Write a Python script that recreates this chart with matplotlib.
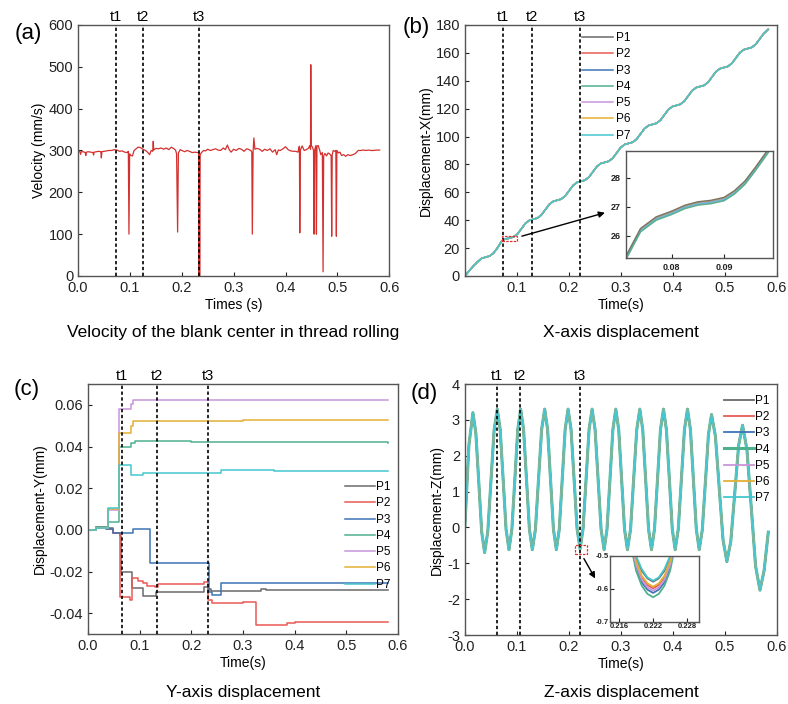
# 螺纹滚压坯料中心速度与位移 (a)-(d)
import matplotlib
matplotlib.use('Agg')
import matplotlib.pyplot as plt
from matplotlib.patches import Rectangle

plt.rcParams['font.family'] = ['Liberation Sans', 'DejaVu Sans']
plt.rcParams['axes.unicode_minus'] = False

# ---------------- data ----------------
POINTS = ['P1', 'P2', 'P3', 'P4', 'P5', 'P6', 'P7']
COLORS = ['#6a6a6a', '#e85a55', '#3f74b5', '#4fb08e', '#c896da', '#e3b035', '#45c6cf']

# (a) velocity of blank center
T_VEL = [0.000, 0.0008, 0.004, 0.005, 0.006, 0.010, 0.014, 0.015, 0.016, 0.020, 0.025, 0.029, 0.030, 0.031,
         0.035, 0.040, 0.044, 0.045, 0.046, 0.050, 0.055, 0.060, 0.065, 0.070, 0.075, 0.080, 0.085, 0.090,
         0.095, 0.097, 0.0982, 0.0995, 0.102, 0.105, 0.108, 0.112, 0.116, 0.120, 0.125, 0.130, 0.134, 0.138,
         0.141, 0.144, 0.145, 0.146, 0.150, 0.155, 0.160, 0.165, 0.170, 0.175, 0.180, 0.185, 0.188, 0.190,
         0.192, 0.1935, 0.197, 0.202, 0.206, 0.210, 0.215, 0.220, 0.225, 0.230, 0.2325, 0.2333, 0.2338,
         0.2345, 0.2355, 0.238, 0.242, 0.246, 0.250, 0.255, 0.260, 0.265, 0.270, 0.275, 0.280, 0.284, 0.288,
         0.291, 0.295, 0.300, 0.305, 0.310, 0.315, 0.320, 0.325, 0.330, 0.334, 0.335, 0.336, 0.3375, 0.339,
         0.341, 0.345, 0.350, 0.355, 0.360, 0.365, 0.370, 0.375, 0.380, 0.383, 0.386, 0.390, 0.395, 0.400,
         0.405, 0.410, 0.415, 0.420, 0.424, 0.426, 0.4268, 0.4275, 0.4285, 0.432, 0.436, 0.440, 0.444, 0.447,
         0.4482, 0.4487, 0.4495, 0.452, 0.454, 0.455, 0.456, 0.4585, 0.4596, 0.4606, 0.463, 0.466, 0.468,
         0.471, 0.4724, 0.4735, 0.476, 0.479, 0.482, 0.485, 0.488, 0.489, 0.490, 0.492, 0.495, 0.497, 0.498,
         0.499, 0.502, 0.505, 0.508, 0.512, 0.516, 0.520, 0.525, 0.530, 0.535, 0.540, 0.545, 0.550, 0.555,
         0.560, 0.565, 0.570, 0.575, 0.5815]
V_VEL = [0, 300, 296, 291, 297, 297, 295, 288, 296, 297, 296, 295, 289, 296,
         297, 298, 297, 282, 297, 298, 299, 300, 300, 302, 301, 298, 299, 296,
         295, 298, 100, 292, 288, 287, 300, 304, 308, 307, 303, 300, 296, 290,
         300, 298, 322, 301, 305, 304, 306, 303, 306, 302, 308, 304, 301, 292,
         105, 294, 302, 299, 297, 300, 298, 295, 296, 295, 296, 0, 294,
         0, 290, 295, 300, 299, 303, 300, 302, 304, 301, 300, 306, 302, 313,
         303, 296, 303, 300, 305, 303, 298, 304, 302, 299, 296, 100, 298, 330,
         303, 305, 303, 298, 303, 300, 304, 296, 302, 290, 301, 300, 304, 309,
         302, 299, 298, 298, 296, 308, 310, 103, 300, 311, 300, 302, 305, 312,
         303, 505, 312, 308, 300, 100, 300, 312, 100, 310, 312, 300, 290,
         295, 10, 287, 293, 287, 294, 292, 287, 95, 290, 300, 298, 300, 95,
         300, 294, 296, 288, 290, 286, 290, 288, 290, 293, 300, 300, 301, 300,
         301, 300, 300, 301, 301]

# (b) X displacement (all points overlap at this scale)
T_X = [0.000, 0.008, 0.016, 0.024, 0.032, 0.040, 0.0476, 0.0553, 0.0629, 0.0705, 0.0782, 0.0858,
       0.0934, 0.1011, 0.1087, 0.1163, 0.1240, 0.1316, 0.1392, 0.1469, 0.1545, 0.1621, 0.1698, 0.1774,
       0.1850, 0.1927, 0.2003, 0.2079, 0.2156, 0.2232, 0.2308, 0.2385, 0.2461, 0.2537, 0.2614, 0.2690,
       0.2766, 0.2843, 0.2919, 0.2995, 0.3072, 0.3148, 0.3224, 0.3301, 0.3377, 0.3453, 0.3530, 0.3606,
       0.3682, 0.3759, 0.3835, 0.3911, 0.3988, 0.4064, 0.4140, 0.4217, 0.4293, 0.4369, 0.4446, 0.4522,
       0.4598, 0.4675, 0.4751, 0.4827, 0.4904, 0.4980, 0.5056, 0.5133, 0.5209, 0.5285, 0.5362, 0.5438,
       0.5514, 0.5591, 0.5667, 0.5743, 0.5830]
X_DISP = [0.0, 3.6, 7.0, 10.0, 12.6, 13.5, 14.3, 16.5, 20.3, 24.9, 26.6, 27.1,
          28.0, 30.1, 33.9, 37.7, 39.9, 40.7, 41.5, 43.7, 47.5, 51.3, 53.5, 54.3,
          55.1, 57.3, 61.1, 64.9, 67.1, 67.9, 68.7, 70.9, 74.7, 78.5, 80.7, 81.5,
          82.3, 84.5, 88.3, 92.1, 94.3, 95.1, 95.9, 98.1, 101.9, 105.7, 107.9, 108.7,
          109.5, 111.7, 115.5, 119.3, 121.5, 122.3, 123.1, 125.3, 129.1, 132.9, 135.1, 135.9,
          136.7, 138.9, 142.7, 146.5, 148.7, 149.5, 150.3, 152.5, 156.3, 160.1, 162.3, 163.1,
          163.9, 166.1, 169.9, 173.7, 176.8]
# zoomed window of (b)
T_XIN = [0.0712, 0.0740, 0.0770, 0.0800, 0.0825, 0.0850, 0.0875, 0.0900, 0.0920, 0.0940, 0.0960, 0.0985]
X_XIN = [25.25, 26.20, 26.60, 26.80, 27.00, 27.12, 27.17, 27.27, 27.50, 27.83, 28.30, 28.93]
XIN_SHIFT = [0.06, -0.04, 0.03, -0.06, 0.00, 0.05, -0.02]
XIN_ORDER = [1, 2, 4, 5, 6, 3, 0]   # draw order in the zoom, grey on top

# (c) Y displacement, step-like
T_C = [
    [0.000, 0.016, 0.035, 0.048, 0.0625, 0.064, 0.0845, 0.106, 0.131, 0.225, 0.233, 0.238, 0.250, 0.335, 0.345, 0.580],
    [0.000, 0.016, 0.035, 0.048, 0.062, 0.0815, 0.0845, 0.096, 0.106, 0.115, 0.129, 0.136, 0.224, 0.2325, 0.240, 0.300, 0.326, 0.385, 0.400, 0.580],
    [0.000, 0.016, 0.035, 0.048, 0.087, 0.119, 0.2346, 0.240, 0.257, 0.580],
    [0.000, 0.016, 0.035, 0.039, 0.060, 0.084, 0.090, 0.200, 0.580],
    [0.000, 0.016, 0.035, 0.039, 0.060, 0.084, 0.088, 0.580],
    [0.000, 0.016, 0.035, 0.039, 0.060, 0.084, 0.087, 0.300, 0.580],
    [0.000, 0.016, 0.035, 0.039, 0.060, 0.084, 0.106, 0.258, 0.360, 0.580],
]
Y_C = [
    [0.000, 0.0015, 0.0008, -0.0015, -0.003, -0.0200, -0.0278, -0.0318, -0.0300, -0.0275, -0.0285, -0.0295, -0.0292, -0.0285, -0.0290, -0.0290],
    [0.000, 0.0012, 0.0005, -0.0015, -0.0320, -0.0335, -0.0230, -0.0245, -0.0256, -0.0268, -0.0275, -0.0258, -0.0248, -0.0335, -0.0350, -0.0345, -0.0455, -0.0447, -0.0440, -0.0440],
    [0.000, 0.0010, 0.0005, -0.0015, 0.0002, -0.0157, -0.0300, -0.0312, -0.0256, -0.0256],
    [0.000, 0.0015, 0.0010, 0.0040, 0.0398, 0.0415, 0.0425, 0.0420, 0.0418],
    [0.000, 0.0010, 0.0008, 0.0095, 0.0580, 0.0605, 0.0622, 0.0622],
    [0.000, 0.0010, 0.0008, 0.0098, 0.0465, 0.0500, 0.0525, 0.0526, 0.0528],
    [0.000, 0.0010, 0.0008, 0.0103, 0.0310, 0.0265, 0.0275, 0.0287, 0.0281, 0.0281],
]

# (d) Z displacement (all points overlap at this scale)
T_Z = [0.0000, 0.0077, 0.0154, 0.0210, 0.0267, 0.0323, 0.0379, 0.0440, 0.0501, 0.0561, 0.0622,
       0.0678, 0.0735, 0.0791, 0.0847, 0.0903, 0.0960, 0.1016, 0.1072, 0.1128, 0.1184, 0.1240, 0.1296,
       0.1356, 0.1415, 0.1475, 0.1534, 0.1590, 0.1646, 0.1702, 0.1758, 0.1814, 0.1871, 0.1927, 0.1983,
       0.2041, 0.2099, 0.2156, 0.2214, 0.2272, 0.2330, 0.2387, 0.2445, 0.2503, 0.2561, 0.2618, 0.2676,
       0.2732, 0.2789, 0.2845, 0.2901, 0.2957, 0.3013, 0.3069, 0.3125, 0.3185, 0.3244, 0.3304, 0.3363,
       0.3419, 0.3475, 0.3531, 0.3587, 0.3645, 0.3703, 0.3760, 0.3818, 0.3874, 0.3931, 0.3987, 0.4043,
       0.4102, 0.4162, 0.4221, 0.4280, 0.4336, 0.4393, 0.4449, 0.4505, 0.4564, 0.4624, 0.4683, 0.4742,
       0.4816, 0.4890, 0.4963, 0.5037, 0.5112, 0.5188, 0.5263, 0.5338, 0.5422, 0.5506, 0.5589, 0.5673,
       0.5753, 0.5833]
Z_DISP = [0.05, 2.30, 3.20, 2.63, 1.25, -0.13, -0.70, -0.11, 1.30, 2.71, 3.30,
          2.73, 1.34, -0.05, -0.62, -0.05, 1.34, 2.73, 3.30, 2.73, 1.34, -0.05, -0.62,
          -0.05, 1.34, 2.73, 3.30, 2.73, 1.34, -0.05, -0.62, -0.05, 1.34, 2.73, 3.30,
          2.73, 1.35, -0.03, -0.60, -0.03, 1.35, 2.73, 3.30, 2.73, 1.34, -0.05, -0.62,
          -0.05, 1.34, 2.73, 3.30, 2.73, 1.34, -0.05, -0.62, -0.05, 1.34, 2.73, 3.30,
          2.73, 1.34, -0.05, -0.62, -0.05, 1.34, 2.73, 3.30, 2.73, 1.34, -0.05, -0.62,
          -0.05, 1.34, 2.73, 3.30, 2.73, 1.34, -0.05, -0.62, -0.07, 1.27, 2.60, 3.15,
          2.55, 1.10, -0.35, -0.95, -0.39, 0.95, 2.29, 2.85, 2.18, 0.55, -1.08, -1.75,
          -1.20, -0.13]
# zoomed trough of (d) near t3
T_ZIN = [0.2180, 0.2190, 0.2200, 0.2210, 0.2220, 0.2230, 0.2240, 0.2250, 0.2260]
Z_ZIN = [
    [-0.430, -0.505, -0.545, -0.568, -0.578, -0.568, -0.545, -0.505, -0.430],
    [-0.445, -0.520, -0.565, -0.588, -0.598, -0.588, -0.565, -0.520, -0.445],
    [-0.455, -0.534, -0.580, -0.602, -0.612, -0.602, -0.580, -0.534, -0.455],
    [-0.460, -0.545, -0.590, -0.615, -0.625, -0.615, -0.590, -0.545, -0.460],
    [-0.450, -0.527, -0.572, -0.595, -0.605, -0.595, -0.572, -0.527, -0.450],
    [-0.440, -0.515, -0.560, -0.583, -0.593, -0.583, -0.560, -0.515, -0.440],
    [-0.420, -0.500, -0.540, -0.565, -0.575, -0.565, -0.540, -0.500, -0.420],
]

T_MARKS = {
    'a': [0.073, 0.125, 0.233],
    'b': [0.0734, 0.1295, 0.222],
    'c': [0.065, 0.133, 0.232],
    'd': [0.062, 0.106, 0.222],
}


def style(ax, size=10.5):
    for s in ax.spines.values():
        s.set_linewidth(1.0)
        s.set_color('#555555')
    ax.tick_params(direction='in', length=3, width=0.8, labelsize=size, colors='#222222')


def t_lines(ax, xs):
    for i, x in enumerate(xs):
        ax.axvline(x, color='black', lw=1.2, ls=(0, (2, 1.5)), zorder=5)
        ax.text(x, 1.005, 't%d' % (i + 1), transform=ax.get_xaxis_transform(),
                ha='center', va='bottom', fontsize=10.5)


fig = plt.figure(figsize=(7.88, 7.04), dpi=100)

# (a)
ax = fig.add_axes([0.099, 0.608, 0.395, 0.3565])
ax.plot(T_VEL, V_VEL, color='#d2312f', lw=0.9)
ax.set_xlim(0, 0.6)
ax.set_ylim(0, 600)
ax.set_xticks([0.0, 0.1, 0.2, 0.3, 0.4, 0.5, 0.6])
ax.set_xticklabels(['0.0', '0.1', '0.2', '0.3', '0.4', '0.5', '0.6'])
ax.set_yticks(range(0, 601, 100))
ax.set_xlabel('Times (s)', fontsize=10, labelpad=2)
ax.set_ylabel('Velocity (mm/s)', fontsize=10, labelpad=2)
style(ax)
t_lines(ax, T_MARKS['a'])

# (b)
ax = fig.add_axes([0.590, 0.608, 0.396, 0.3565])
for name, col in zip(POINTS, COLORS):
    ax.plot(T_X, X_DISP, color=col, lw=1.1, label=name)
ax.set_xlim(0, 0.6)
ax.set_ylim(0, 180)
ax.set_xticks([0.1, 0.2, 0.3, 0.4, 0.5, 0.6])
ax.set_yticks(range(0, 181, 20))
ax.set_xlabel('Time(s)', fontsize=10, labelpad=2)
ax.set_ylabel('Displacement-X(mm)', fontsize=10, labelpad=2)
style(ax)
t_lines(ax, T_MARKS['b'])
ax.legend(loc='upper left', bbox_to_anchor=(0.36, 0.99), frameon=False, fontsize=8.5,
          handlelength=2.6, labelspacing=0.36, handletextpad=0.3, borderaxespad=0)
ins = fig.add_axes([0.7944, 0.6335, 0.1865, 0.152])
for k in XIN_ORDER:
    ins.plot(T_XIN, [v + XIN_SHIFT[k] for v in X_XIN], color=COLORS[k], lw=1.0, alpha=0.85)
ins.set_xlim(0.0712, 0.0994)
ins.set_ylim(25.24, 28.93)
ins.set_xticks([0.08, 0.09])
ins.set_yticks([26, 27, 28])
style(ins, size=6.5)
for lab in ins.get_xticklabels() + ins.get_yticklabels():
    lab.set_fontweight('bold')
ax.add_patch(Rectangle((0.0712, 25.24), 0.0994 - 0.0712, 28.93 - 25.24, fill=False,
                       ec='#e03030', ls=(0, (2, 1)), lw=0.9, zorder=6))
ax.annotate('', xy=(0.2744, 45.9), xytext=(0.1043, 28.0),
            arrowprops=dict(arrowstyle='-|>', color='black', lw=1.0, mutation_scale=9))

# (c)
ax = fig.add_axes([0.1117, 0.0994, 0.3934, 0.355])
for name, col, ts, ys in zip(POINTS, COLORS, T_C, Y_C):
    ax.plot(ts, ys, color=col, lw=1.1, drawstyle='steps-post', label=name)
ax.set_xlim(0, 0.6)
ax.set_ylim(-0.05, 0.07)
ax.set_xticks([0.0, 0.1, 0.2, 0.3, 0.4, 0.5, 0.6])
ax.set_xticklabels(['0.0', '0.1', '0.2', '0.3', '0.4', '0.5', '0.6'])
ax.set_yticks([-0.04, -0.02, 0.0, 0.02, 0.04, 0.06])
ax.set_yticklabels(['-0.04', '-0.02', '0.00', '0.02', '0.04', '0.06'])
ax.set_xlabel('Time(s)', fontsize=10, labelpad=2)
ax.set_ylabel('Displacement-Y(mm)', fontsize=10, labelpad=2)
style(ax)
t_lines(ax, T_MARKS['c'])
ax.legend(loc='upper right', bbox_to_anchor=(1.0, 0.64), frameon=False, fontsize=8.5,
          handlelength=2.6, labelspacing=0.36, handletextpad=0.1, borderaxespad=0.2)

# (d)
ax = fig.add_axes([0.590, 0.098, 0.396, 0.3565])
for name, col in zip(POINTS, COLORS):
    lw = 2.2 if name == 'P4' else 1.3
    ax.plot(T_Z, Z_DISP, color=col, lw=lw, label=name)
ax.set_xlim(0, 0.6)
ax.set_ylim(-3, 4)
ax.set_xticks([0.0, 0.1, 0.2, 0.3, 0.4, 0.5, 0.6])
ax.set_xticklabels(['0.0', '0.1', '0.2', '0.3', '0.4', '0.5', '0.6'])
ax.set_yticks(range(-3, 5))
ax.set_xlabel('Time(s)', fontsize=10, labelpad=2)
ax.set_ylabel('Displacement-Z(mm)', fontsize=10, labelpad=2)
style(ax)
t_lines(ax, T_MARKS['d'])
ax.legend(loc='upper right', bbox_to_anchor=(1.0, 0.985), frameon=False, fontsize=8.5,
          handlelength=2.6, labelspacing=0.36, handletextpad=0.1, borderaxespad=0.2)
ins = fig.add_axes([0.7741, 0.1165, 0.113, 0.0938])
for name, col, zs in zip(POINTS, COLORS, Z_ZIN):
    ins.plot(T_ZIN, zs, color=col, lw=1.3)
ins.set_xlim(0.2144, 0.2301)
ins.set_ylim(-0.7, -0.5)
ins.set_xticks([0.216, 0.222, 0.228])
ins.set_yticks([-0.7, -0.6, -0.5])
style(ins, size=5.5)
ins.tick_params(pad=1)
for lab in ins.get_xticklabels() + ins.get_yticklabels():
    lab.set_fontweight('bold')
ax.add_patch(Rectangle((0.2126, -0.74), 0.023, 0.25, fill=False,
                       ec='#e03030', ls=(0, (2, 1)), lw=0.9, zorder=6))
ax.annotate('', xy=(0.2531, -1.49), xytext=(0.2261, -0.8),
            arrowprops=dict(arrowstyle='-|>', color='black', lw=1.0, mutation_scale=9))

# panel tags and captions
for tag, x, y in [('(a)', 28, 34), ('(b)', 416, 27), ('(c)', 27, 390), ('(d)', 424, 393)]:
    fig.text(x / 788, 1 - y / 704, tag, fontsize=16, ha='center', va='center')
for cap, x, y in [('Velocity of the blank center in thread rolling', 233, 333),
                  ('X-axis displacement', 621, 333),
                  ('Y-axis displacement', 243, 692),
                  ('Z-axis displacement', 621, 692)]:
    fig.text(x / 788, 1 - y / 704, cap, fontsize=12.5, ha='center', va='center')

fig.savefig('out.png', dpi=100)
